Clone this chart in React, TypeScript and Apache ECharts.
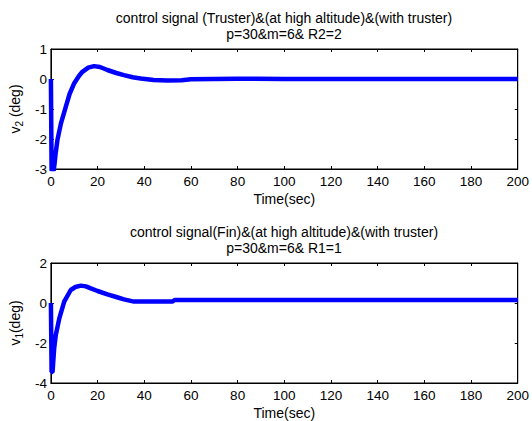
import React, { useEffect, useRef } from "react";
import * as echarts from "echarts";

// Top plot: thruster control signal v2 (deg)
const topTime = [0, 0.3, 1.2, 1.6, 2.0, 2.8, 4.3, 6.4, 8, 10, 12, 13.5, 16, 18.5, 21, 24.2, 28, 31.3, 35, 38.5, 44, 50, 56, 60, 70, 80, 100, 140, 200];
const topValues = [0, -3.05, -3.05, -2.8, -2.5, -2.03, -1.48, -0.92, -0.5, -0.14, 0.1, 0.24, 0.38, 0.43, 0.4, 0.3, 0.2, 0.13, 0.06, 0.02, -0.03, -0.05, -0.04, -0.01, 0.0, 0.01, 0.0, 0.0, 0.0];

// Bottom plot: fin control signal v1 (deg)
const botTime = [0, 0.3, 0.7, 1.4, 2.1, 3.6, 5.7, 8.5, 10.5, 12.8, 15, 17.1, 20, 24.2, 28, 31.3, 35.6, 40, 52, 53, 100, 200];
const botValues = [0, -3.45, -3.45, -2.27, -1.6, -0.77, 0.07, 0.65, 0.8, 0.87, 0.83, 0.73, 0.6, 0.43, 0.3, 0.18, 0.07, 0.07, 0.07, 0.15, 0.15, 0.15];

const xTicks = { min: 0, max: 200, interval: 20 };
const topY = { min: -3, max: 1, interval: 1 };
const botY = { min: -4, max: 2, interval: 2 };

const topTitle = ["control signal (Truster)&(at high altitude)&(with truster)", "p=30&m=6& R2=2"];
const botTitle = ["control signal(Fin)&(at high altitude)&(with truster)", "p=30&m=6& R1=1"];
const xName = "Time(sec)";

const FONT = "Arial, 'Liberation Sans', Helvetica, sans-serif";

export default function App() {
  const ref = useRef<HTMLDivElement>(null);
  useEffect(() => {
    document.body.style.margin = "0";
    if (!ref.current) return;
    const chart = echarts.init(ref.current, null, { renderer: "svg" });

    const grids = [
      { left: 50, top: 49, width: 468, height: 120, show: true, borderColor: "#000", borderWidth: 1, backgroundColor: "transparent" },
      { left: 50, top: 263, width: 468, height: 120, show: true, borderColor: "#000", borderWidth: 1, backgroundColor: "transparent" },
    ];

    const axisLine = { show: true, onZero: false, lineStyle: { color: "#000", width: 1 } };
    const tick = { show: true, inside: true, length: 3, lineStyle: { color: "#000" } };
    const label = { color: "#000", fontSize: 13.5, fontFamily: FONT };

    const mkX = (gi: number) => [
      {
        type: "value", gridIndex: gi, ...xTicks, position: "bottom",
        axisLine, axisTick: tick, splitLine: { show: false },
        axisLabel: { ...label, margin: 5 },
        name: xName, nameLocation: "middle", nameGap: 23,
        nameTextStyle: { color: "#000", fontSize: 14, fontFamily: FONT },
      },
      {
        type: "value", gridIndex: gi, ...xTicks, position: "top",
        axisLine, axisTick: tick, splitLine: { show: false }, axisLabel: { show: false },
      },
    ];
    const mkY = (gi: number, range: any, sub: string, sep: string) => [
      {
        type: "value", gridIndex: gi, ...range, position: "left",
        axisLine, axisTick: tick, splitLine: { show: false },
        axisLabel: { ...label, margin: 4 },
        name: `{n|v}{s|${sub}}{n|${sep}(deg)}`, nameLocation: "middle", nameRotate: 90, nameGap: 24,
        nameTextStyle: {
          color: "#000", fontSize: 14, fontFamily: FONT,
          rich: {
            n: { fontSize: 14, fontFamily: FONT, color: "#000" },
            s: { fontSize: 10, fontFamily: FONT, color: "#000", padding: [8, 0, 0, 0] },
          },
        },
      },
      {
        type: "value", gridIndex: gi, ...range, position: "right",
        axisLine, axisTick: tick, splitLine: { show: false }, axisLabel: { show: false },
      },
    ];

    const titleText = (lines: string[], y: number) =>
      lines.map((t, i) => ({
        type: "text", x: 284, y: y + i * 15.5,
        style: { text: t, fill: "#000", font: `14px ${FONT}`, textAlign: "center", textVerticalAlign: "middle" },
      }));

    chart.setOption({
      animation: false,
      backgroundColor: "#fff",
      grid: grids,
      xAxis: [...mkX(0), ...mkX(1)],
      yAxis: [...mkY(0, topY, "2", " "), ...mkY(1, botY, "1", "")],
      graphic: [...titleText(topTitle, 18), ...titleText(botTitle, 232)],
      series: [
        {
          type: "line", xAxisIndex: 0, yAxisIndex: 0, showSymbol: false, clip: true,
          data: topTime.map((t, i) => [t, topValues[i]]),
          lineStyle: { color: "#0000ff", width: 4.5 }, itemStyle: { color: "#0000ff" },
        },
        {
          type: "line", xAxisIndex: 2, yAxisIndex: 2, showSymbol: false, clip: true,
          data: botTime.map((t, i) => [t, botValues[i]]),
          lineStyle: { color: "#0000ff", width: 4.5 }, itemStyle: { color: "#0000ff" },
        },
      ],
    });
    return () => chart.dispose();
  }, []);
  return <div ref={ref} style={{ width: 532, height: 421 }} />;
}
